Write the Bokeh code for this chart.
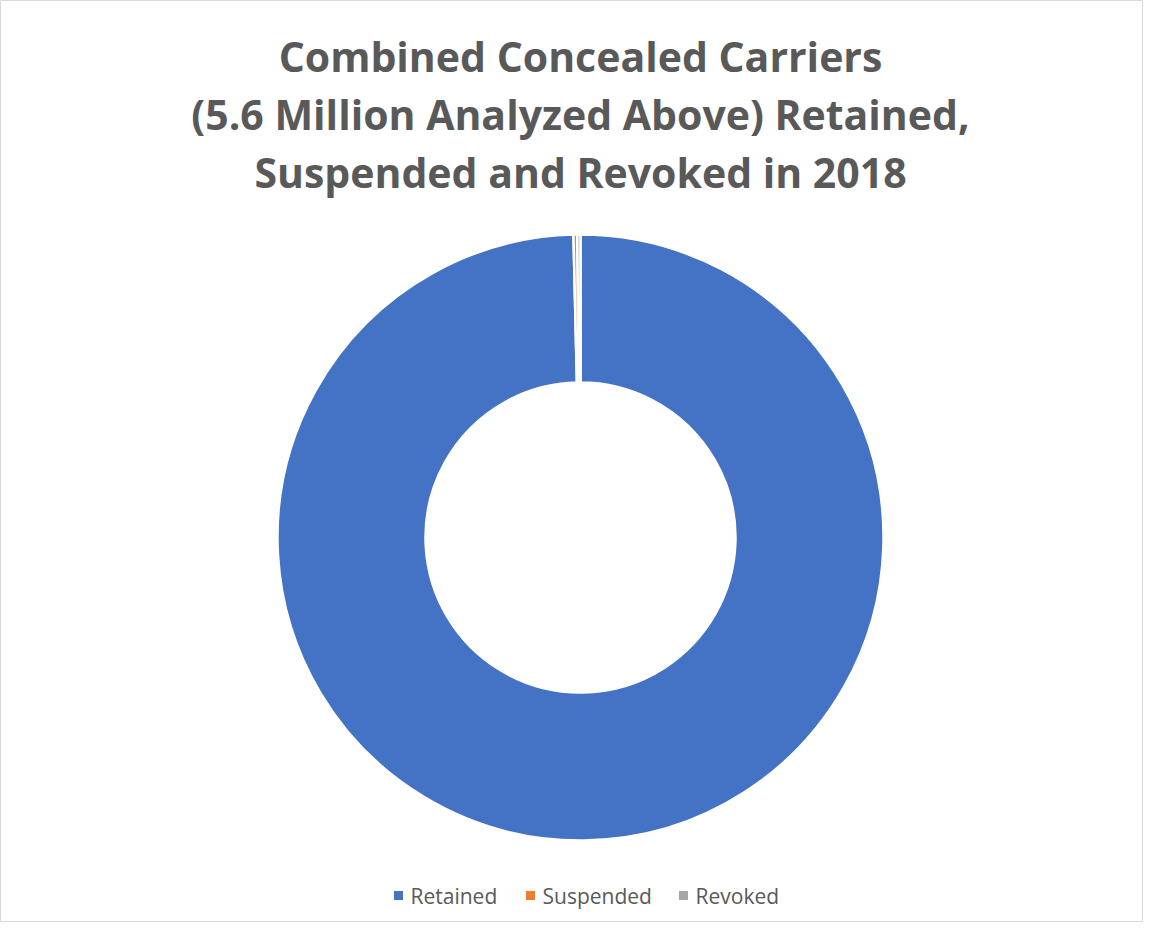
import math
from bokeh.plotting import figure
from bokeh.models import Range1d
from bokeh.core.properties import value
from bokeh.embed import file_html
from bokeh.resources import INLINE

# ---- data ----
categories = ["Retained", "Suspended", "Revoked"]
shares = [99.63, 0.2, 0.17]
colors = ["#4472C4", "#ED7D31", "#A5A5A5"]
title_lines = ["Combined Concealed Carriers",
               "(5.6 Million Analyzed Above) Retained,",
               "Suspended and Revoked in 2018"]

W, H = 1143, 922
p = figure(width=W, height=H, output_backend="svg", toolbar_location=None,
           x_range=Range1d(0, W), y_range=Range1d(0, H),
           min_border=0)
p.axis.visible = False
p.grid.visible = False
p.outline_line_color = "#D9D9D9"
p.background_fill_color = "white"

def Y(page_y):
    return H - page_y

# donut
cx, cy = 580, Y(537)
total = sum(shares)
starts, ends = [], []
a = math.pi / 2
for s in shares:
    starts.append(a)
    a -= s / total * 2 * math.pi
    ends.append(a)
p.annular_wedge(x=cx, y=cy, inner_radius=155, outer_radius=303,
                start_angle=starts, end_angle=ends, direction="clock",
                fill_color=colors, line_color="white", line_width=2.5)

# title
p.text(x=[580] * 3, y=[Y(55), Y(113), Y(171)], text=title_lines,
       text_font=value("Open Sans"), text_font_style="bold", text_font_size="41px",
       text_color="#595959", text_align="center", text_baseline="middle")

# legend
lx = [398, 530, 683]
p.rect(x=lx, y=[Y(895)] * 3, width=9, height=9, fill_color=colors, line_color=None)
p.text(x=[v + 12 for v in lx], y=[Y(895)] * 3, text=categories,
       text_font=value("Open Sans"), text_font_size="21px", text_color="#595959",
       text_align="left", text_baseline="middle")

open("out.html", "w").write(file_html(p, INLINE))
